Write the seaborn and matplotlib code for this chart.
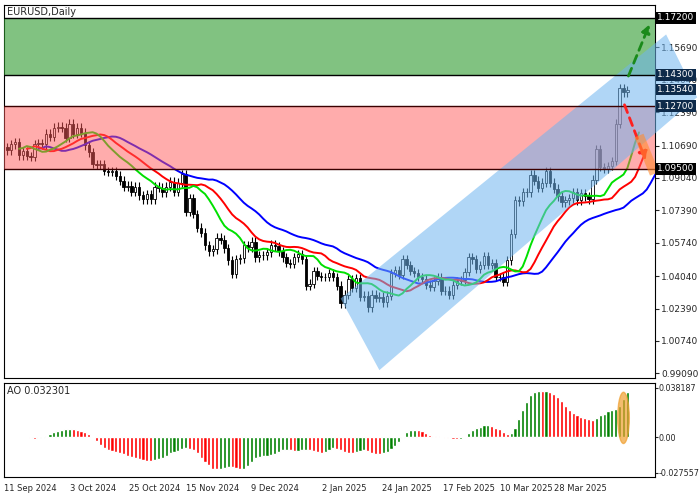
import numpy as np
import pandas as pd
import seaborn as sns
import matplotlib.pyplot as plt
from matplotlib.patches import Polygon, Ellipse

sns.set_style("white")
plt.rcParams['font.family'] = ['DejaVu Sans']

# daily closes, Sep 3 2024 .. Apr 15 2025
closes = [
	1.1045, 1.1075, 1.1085, 1.1020, 1.1040, 1.1015, 1.1010, 1.1075, 1.1080, 1.1075,
	1.1130, 1.1115, 1.1160, 1.1165, 1.1160, 1.1110, 1.1180, 1.1130, 1.1160, 1.1135,
	1.1070, 1.1035, 1.0975, 1.0970, 1.0975, 1.0940, 1.0935, 1.0940, 1.0915, 1.0890,
	1.0860, 1.0865, 1.0835, 1.0860, 1.0815, 1.0795, 1.0820, 1.0795, 1.0860, 1.0855,
	1.0830, 1.0860, 1.0885,
	1.0835, 1.0880, 1.0925, 1.0730, 1.0800, 1.0720, 1.0650, 1.0625, 1.0560, 1.0530,
	1.0540, 1.0600, 1.0590, 1.0545, 1.0485, 1.0415, 1.0490, 1.0495, 1.0560, 1.0550,
	1.0580,
	1.0500, 1.0510, 1.0510, 1.0525, 1.0565, 1.0555, 1.0530, 1.0500, 1.0470, 1.0465,
	1.0500, 1.0515, 1.0490, 1.0355, 1.0365, 1.0430, 1.0405, 1.0400, 1.0400, 1.0420,
	1.0400, 1.0355,
	1.0265, 1.0310, 1.0390, 1.0345, 1.0395, 1.0300, 1.0305, 1.0245, 1.0310, 1.0295,
	1.0300, 1.0270, 1.0305, 1.0420, 1.0435, 1.0410, 1.0490, 1.0460, 1.0430, 1.0420,
	1.0400, 1.0390, 1.0360,
	1.0350, 1.0380, 1.0400, 1.0330, 1.0330, 1.0310, 1.0360, 1.0380, 1.0385, 1.0425,
	1.0500, 1.0490, 1.0440, 1.0460, 1.0505, 1.0460, 1.0470, 1.0400, 1.0400, 1.0375,
	1.0485, 1.0620, 1.0790, 1.0785, 1.0830, 1.0830, 1.0920, 1.0890, 1.0855, 1.0880,
	1.0940, 1.0880, 1.0850, 1.0810, 1.0780, 1.0790, 1.0800, 1.0830, 1.0790, 1.0825,
	1.0810,
	1.0795, 1.0895, 1.1050, 1.0960, 1.0950, 1.0965, 1.0990, 1.1180, 1.1360, 1.1340,
	1.1350,
]
first_open = 1.1060
wick = 0.0022

price_ticks = [1.15690, 1.14040, 1.12390, 1.10690, 1.09040, 1.07390,
			   1.05740, 1.04040, 1.02390, 1.00740, 0.99090]
date_labels = ["11 Sep 2024", "3 Oct 2024", "25 Oct 2024", "15 Nov 2024", "9 Dec 2024",
			   "2 Jan 2025", "24 Jan 2025", "17 Feb 2025", "10 Mar 2025", "28 Mar 2025"]
levels = {"1.17200": 1.172, "1.14300": 1.143, "1.13540": 1.1354, "1.12700": 1.127, "1.09500": 1.095}

dates = pd.bdate_range("2024-09-03", periods=len(closes))
df = pd.DataFrame({"date": dates, "close": closes})
df["open"] = df["close"].shift(1).fillna(first_open)
df["high"] = df[["open", "close"]].max(axis=1) + wick
df["low"] = df[["open", "close"]].min(axis=1) - wick
df["x"] = np.arange(len(df))
n = len(df)

fig = plt.figure(figsize=(7, 5), dpi=100)
ax = fig.add_axes([0.005, 0.244, 0.93, 0.746])
ax2 = fig.add_axes([0.005, 0.046, 0.93, 0.188])

# candles
up = df["close"] >= df["open"]
ax.vlines(df["x"], df["low"], df["high"], color="black", lw=0.8, zorder=3)
ax.bar(df["x"][up], (df["close"] - df["open"])[up], bottom=df["open"][up], width=0.6,
	   color="white", edgecolor="black", lw=0.6, zorder=4)
ax.bar(df["x"][~up], (df["open"] - df["close"])[~up], bottom=df["close"][~up], width=0.6,
	   color="black", edgecolor="black", lw=0.6, zorder=4)

# alligator
med = (df["high"] + df["low"]) / 2
for period, shift, col in [(13, 8, "#0000ff"), (8, 5, "#ff0000"), (5, 3, "#00e000")]:
	line = pd.DataFrame({"x": df["x"] + shift, "y": med.ewm(alpha=1 / period).mean()})
	sns.lineplot(data=line, x="x", y="y", ax=ax, color=col, lw=1.4, zorder=5)

# zones
ax.axhspan(1.143, 1.172, color="#2e9a2e", alpha=0.6, zorder=6, lw=0)
ax.axhspan(1.095, 1.127, color="#ff5a5a", alpha=0.5, zorder=6, lw=0)
for lv in [1.172, 1.143, 1.127, 1.095]:
	ax.axhline(lv, color="#3a0000" if lv < 1.13 else "black", lw=1, zorder=7)

# channel
chan = Polygon([(86, 1.029), (96, 0.9925), (178, 1.1315), (170, 1.1635)], closed=True,
			   color="#6fb5f0", alpha=0.55, zorder=6, lw=0, clip_on=False)
ax.add_patch(chan)

ax.annotate("", xy=(166, 1.170), xytext=(160, 1.141),
			arrowprops=dict(arrowstyle="-|>", color="#1a8a1a", lw=2, ls=(0, (3, 2)), mutation_scale=12), zorder=8)
ax.annotate("", xy=(165, 1.098), xytext=(159, 1.129),
			arrowprops=dict(arrowstyle="-|>", color="#ff2020", lw=2, ls=(0, (3, 2)), mutation_scale=12), zorder=8)
ax.plot([163, 167], [1.112, 1.0925], color="#ff8c30", lw=7, alpha=0.6, zorder=8, solid_capstyle="butt")

ax.set_xlim(-1, 167)
ax.set_ylim(0.9885, 1.1785)
ax.yaxis.tick_right()
ax.set_yticks(price_ticks)
ax.set_yticklabels([f"{t:.5f}" for t in price_ticks], fontsize=6.5)
ax.tick_params(axis="y", length=3, pad=2)
ax.set_xticks([])
ax.set_xlabel("")
ax.set_ylabel("")
for txt, lv in levels.items():
	bg = "black" if txt in ("1.17200", "1.09500") else "#0d2a4a"
	ax.text(1.004, lv, txt, transform=ax.get_yaxis_transform(), fontsize=6.5, color="white",
			va="center", ha="left", zorder=10,
			bbox=dict(boxstyle="square,pad=0.15", fc=bg, ec="none"))
ax.text(0.005, 0.995, "EURUSD,Daily", transform=ax.transAxes, fontsize=7, va="top")

# awesome oscillator
ao = med.rolling(5, min_periods=1).mean() - med.rolling(34, min_periods=1).mean()
ao_col = np.where(ao.diff().fillna(0) >= 0, "#008000", "#ff0000")
ax2.bar(df["x"], ao, width=0.8, color=ao_col)
ax2.add_patch(Ellipse((n - 2, ao.iloc[-2] / 2), 3, abs(ao.iloc[-2]) + 0.01,
					  color="#f0a030", alpha=0.7, zorder=5))
ax2.set_xlim(-1, 167)
ax2.set_ylim(-0.031, 0.042)
ax2.yaxis.tick_right()
ax2.set_yticks([0.038187, 0.0, -0.027557])
ax2.set_yticklabels(["0.038187", "0.00", "-0.027557"], fontsize=5.8)
ax2.tick_params(axis="y", length=2, pad=1)
ax2.text(0.005, 0.97, "AO 0.032301", transform=ax2.transAxes, fontsize=7, va="top")
tick_pos = [df.index[df["date"] >= pd.Timestamp(d)][0] for d in date_labels]
ax2.set_xticks(tick_pos)
ax2.set_xticklabels(date_labels, fontsize=6)
ax2.tick_params(axis="x", length=3, pad=2)

for a in (ax, ax2):
	for s in a.spines.values():
		s.set_color("black")
		s.set_linewidth(0.8)

fig.savefig("out.png", dpi=100)
